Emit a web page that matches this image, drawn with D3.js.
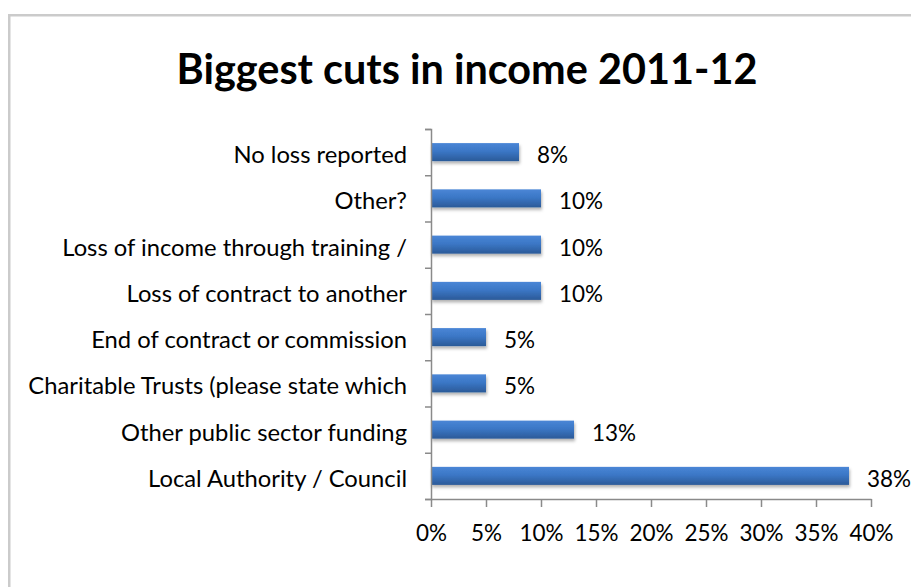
<!DOCTYPE html>
<html>
<head>
<meta charset="utf-8">
<script src="https://cdn.jsdelivr.net/npm/d3@7"></script>
<style>
  html, body { margin: 0; padding: 0; background: #fff; }
  svg { display: block; }
</style>
</head>
<body>
<svg id="chart" width="911" height="587"></svg>
<script>
// Chart content
const title = "Biggest cuts in income 2011-12";
const categories = [
  "No loss reported",
  "Other?",
  "Loss of income through training /",
  "Loss of contract to another",
  "End of contract or commission",
  "Charitable Trusts (please state which",
  "Other public sector funding",
  "Local Authority / Council"
];
const values = [8, 10, 10, 10, 5, 5, 13, 38];
const tickValues = [0, 5, 10, 15, 20, 25, 30, 35, 40];

const FONT = "Lato, 'Open Sans', 'DejaVu Sans', sans-serif";

const svg = d3.select("#chart");

// Frame around the chart area
svg.append("line").attr("x1", 9.25).attr("x2", 9.25).attr("y1", 14).attr("y2", 587)
  .attr("stroke", "#cbcbcb").attr("stroke-width", 2.5);
svg.append("line").attr("x1", 8).attr("x2", 911).attr("y1", 15.25).attr("y2", 15.25)
  .attr("stroke", "#cbcbcb").attr("stroke-width", 2.5);

// Size text so its rendered width lands on a target width
function fitSize(text, targetWidth, weight) {
  const t = svg.append("text").attr("font-family", FONT).attr("font-size", 100)
    .attr("font-weight", weight || "normal").text(text);
  const w = t.node().getComputedTextLength();
  t.remove();
  return 100 * targetWidth / w;
}

const labelSize = fitSize("Charitable Trusts (please state which", 379, "normal");
const numberSize = Math.min(labelSize, (labelSize + fitSize("10%", 41.5, "normal")) / 2);
const titleSize = fitSize(title, 581, "bold");

// Scales
const plotLeft = 431, plotRight = 871, plotTop = 129, plotBottom = 499;
const x = d3.scaleLinear().domain([0, 40]).range([plotLeft, plotRight]);
const y = d3.scaleBand().domain(categories).range([plotTop, plotBottom])
  .paddingInner(0.61).paddingOuter(0.305);
const yEdges = d3.scaleLinear().domain([0, categories.length]).range([plotTop, plotBottom]);

// Bar fill and shadow
const defs = svg.append("defs");
const grad = defs.append("linearGradient").attr("id", "barFill")
  .attr("x1", 0).attr("y1", 0).attr("x2", 0).attr("y2", 1);
grad.append("stop").attr("offset", "0%").attr("stop-color", "#4a86d6");
grad.append("stop").attr("offset", "45%").attr("stop-color", "#3b77c6");
grad.append("stop").attr("offset", "100%").attr("stop-color", "#2b5a98");
const shadow = defs.append("filter").attr("id", "barShadow")
  .attr("x", "-5%").attr("y", "-30%").attr("width", "115%").attr("height", "180%");
shadow.append("feDropShadow").attr("dx", 1).attr("dy", 2.5).attr("stdDeviation", 1.6)
  .attr("flood-color", "#000").attr("flood-opacity", 0.3);

// Title
svg.append("text")
  .attr("x", 467).attr("y", 84)
  .attr("text-anchor", "middle")
  .attr("font-family", FONT).attr("font-weight", "bold")
  .attr("font-size", titleSize).attr("fill", "#000")
  .text(title);

// Bars
svg.append("g").selectAll("rect").data(categories).join("rect")
  .attr("x", x(0))
  .attr("y", d => y(d))
  .attr("width", (d, i) => x(values[i]) - x(0))
  .attr("height", y.bandwidth())
  .attr("fill", "url(#barFill)")
  .attr("filter", "url(#barShadow)");

// Vertical axis with ticks between categories
const yAxis = svg.append("g").attr("transform", `translate(${plotLeft},0)`)
  .call(d3.axisLeft(yEdges).ticks(categories.length).tickSize(6).tickFormat(""));
yAxis.select(".domain").attr("stroke", "#8a8a8a").attr("stroke-width", 1.5);
yAxis.selectAll(".tick line").attr("stroke", "#8a8a8a").attr("stroke-width", 1.5);

// Horizontal axis
const xAxis = svg.append("g").attr("transform", `translate(0,${plotBottom})`)
  .call(d3.axisBottom(x).tickValues(tickValues).tickSize(8).tickSizeOuter(0)
    .tickFormat(d => d + "%"));
xAxis.select(".domain").attr("stroke", "#8a8a8a").attr("stroke-width", 1.5);
xAxis.selectAll(".tick line").attr("stroke", "#8a8a8a").attr("stroke-width", 1.5);
xAxis.selectAll(".tick text")
  .attr("y", 42).attr("dy", 0)
  .attr("font-family", FONT).attr("font-size", numberSize).attr("fill", "#000");

// Category labels
svg.append("g").selectAll("text").data(categories).join("text")
  .attr("x", 407)
  .attr("y", d => y(d) + y.bandwidth() / 2 + 11)
  .attr("text-anchor", "end")
  .attr("font-family", FONT).attr("font-size", labelSize).attr("fill", "#000")
  .text(d => d);

// Value labels
svg.append("g").selectAll("text").data(categories).join("text")
  .attr("x", (d, i) => x(values[i]) + 18)
  .attr("y", d => y(d) + y.bandwidth() / 2 + 11)
  .attr("font-family", FONT).attr("font-size", numberSize).attr("fill", "#000")
  .text((d, i) => values[i] + "%");
</script>
</body>
</html>
